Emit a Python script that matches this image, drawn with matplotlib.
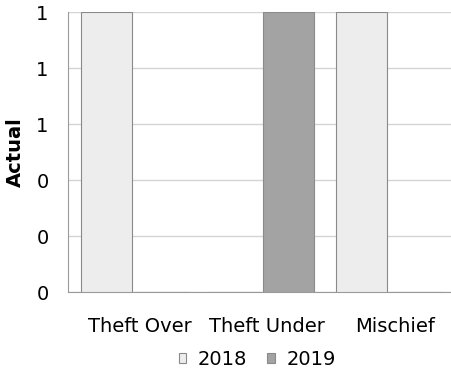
import matplotlib.pyplot as plt
import numpy as np
from matplotlib.ticker import FormatStrFormatter

categories = ["Theft Over", "Theft Under", "Mischief"]
years = ["2018", "2019"]
values_2018 = [1, 0, 1]
values_2019 = [0, 1, 0]
colors = ["#ededed", "#a3a3a3"]

fig = plt.figure(figsize=(4.51, 3.73), dpi=100)
ax = fig.add_axes([68 / 451, 81 / 373, 383 / 451, 280 / 373])

x = np.arange(len(categories))
w = 0.4
for i, (vals, col, lab) in enumerate(zip([values_2018, values_2019], colors, years)):
    ax.bar(x + (i - 0.5) * w + 0.03 * i, vals, width=w, color=col, edgecolor="#8a8a8a",
           linewidth=0.8, label=lab, zorder=3)

ax.set_xlim(-0.5, 2.5)
ax.set_ylim(0, 1)
ax.set_yticks([0, 0.2, 0.4, 0.6, 0.8, 1.0])
ax.yaxis.set_major_formatter(FormatStrFormatter("%.0f"))
ax.set_xticks(x + 0.06)
ax.set_xticklabels(categories)
ax.tick_params(axis="both", length=0, labelsize=14)
ax.tick_params(axis="x", pad=18)
ax.tick_params(axis="y", pad=14)
ax.grid(axis="y", color="#d4d4d4", linewidth=1, zorder=0)

for s in ["top", "right"]:
    ax.spines[s].set_visible(False)
for s in ["left", "bottom"]:
    ax.spines[s].set_color("#9a9a9a")

ax.set_ylabel("Actual", fontsize=14, fontweight="bold", labelpad=8)

fig.legend(loc="lower center", bbox_to_anchor=(0.57, -0.035), ncol=2, frameon=False,
           fontsize=14, handlelength=0.4, handleheight=0.4, handletextpad=0.6,
           columnspacing=1.0)

fig.savefig("out.png", dpi=100)
